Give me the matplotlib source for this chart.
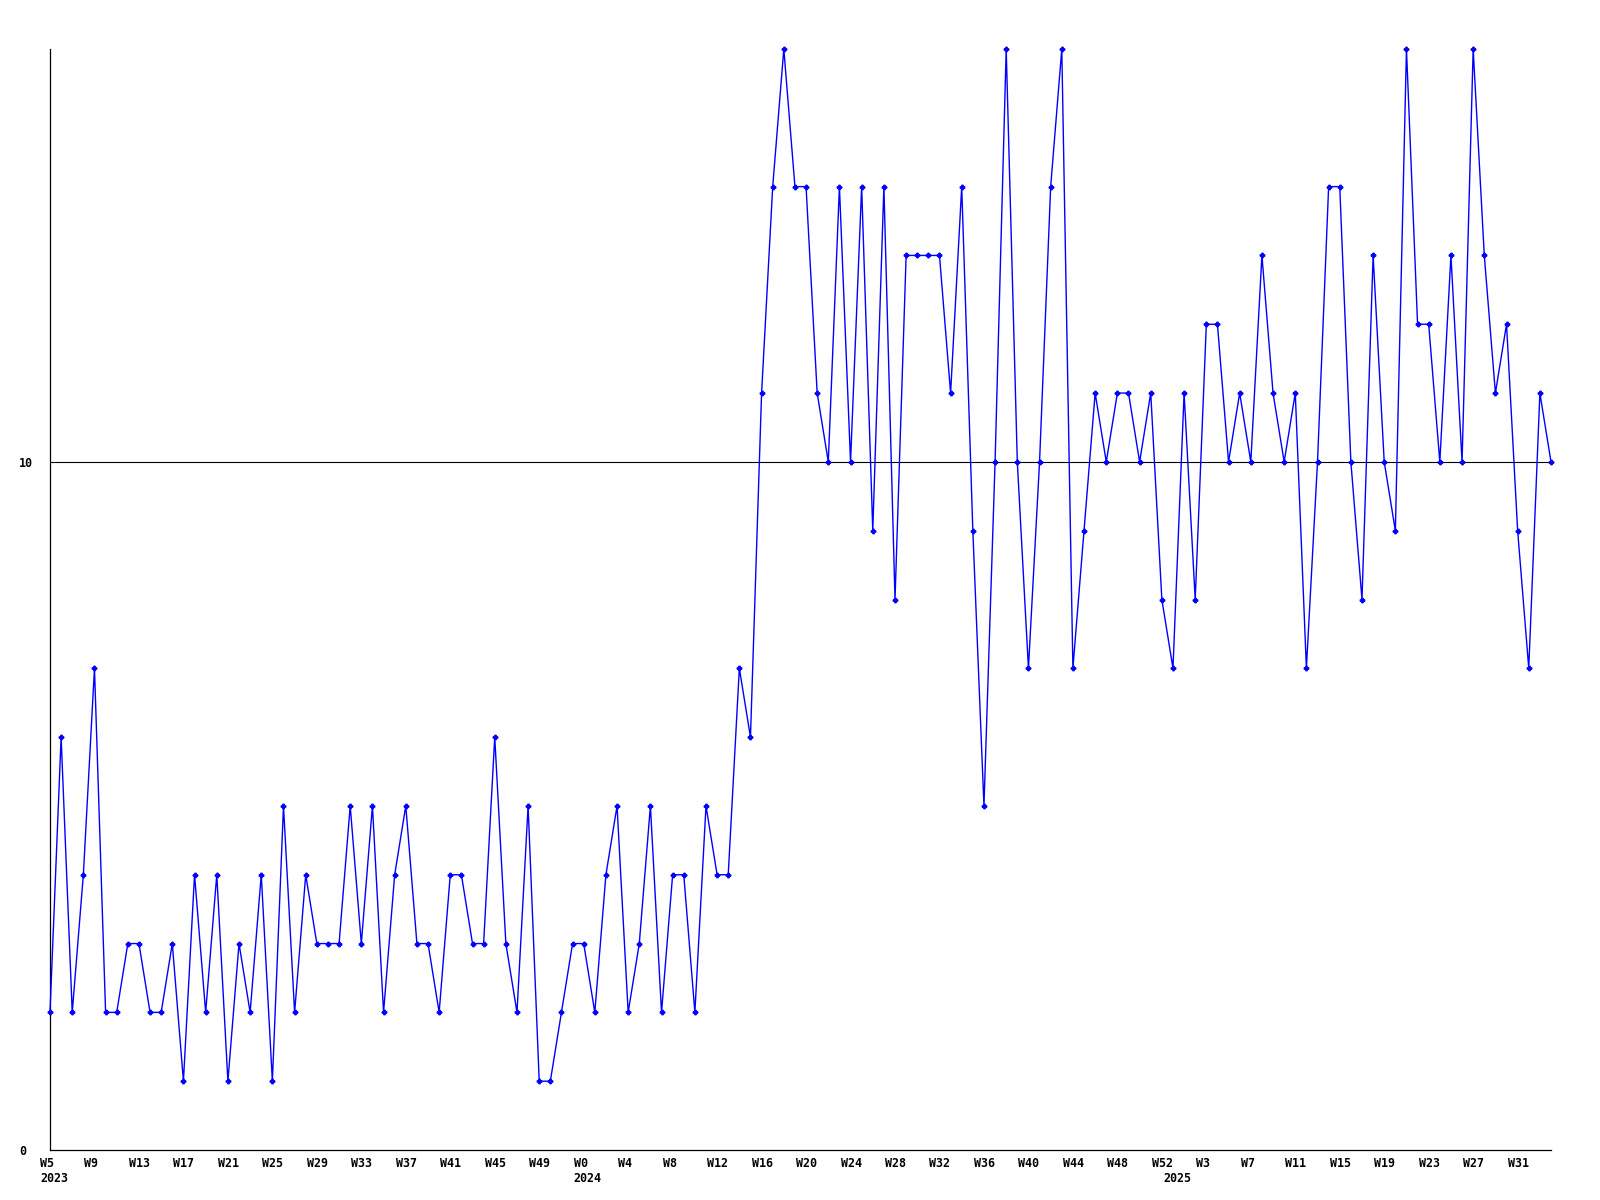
import matplotlib
matplotlib.use("Agg")
import matplotlib.pyplot as plt
from matplotlib.transforms import ScaledTranslation

# ---- data -------------------------------------------------------------
# (year, first week, last week) covered by the series, one point per week
year_spans = [(2023, 5, 52), (2024, 0, 52), (2025, 0, 34)]

values = [2, 6, 2, 4, 7, 2, 2, 3, 3, 2, 2, 3, 1, 4, 2, 4, 1, 3, 2, 4, 1, 5, 2, 4, 3, 3, 3, 5, 3, 5, 2, 4, 5,
          3, 3, 2, 4, 4, 3, 3, 6, 3, 2, 5, 1, 1, 2, 3, 3, 2, 4, 5, 2, 3, 5, 2, 4, 4, 2, 5, 4, 4, 7, 6,
          11, 14, 16, 14, 14, 11, 10, 14, 10, 14, 9, 14, 8, 13, 13, 13, 13, 11, 14, 9, 5, 10, 16, 10,
          7, 10, 14, 16, 7, 9, 11, 10, 11, 11, 10, 11, 8, 7, 11, 8, 12, 12, 10, 11, 10, 13, 11, 10,
          11, 7, 10, 14, 14, 10, 8, 13, 10, 9, 16, 12, 12, 10, 13, 10, 16, 13, 11, 12, 9, 7, 11, 10]

x_tick_labels = ["W5", "W9", "W13", "W17", "W21", "W25", "W29", "W33", "W37", "W41", "W45", "W49",
                 "W0", "W4", "W8", "W12", "W16", "W20", "W24", "W28", "W32", "W36", "W40", "W44",
                 "W48", "W52", "W3", "W7", "W11", "W15", "W19", "W23", "W27", "W31"]
year_labels = ["2023", "2024", "2025"]
y_ticks = [0, 10]
y_tick_labels = ["0", "10"]
reference_level = 10
y_max = 16

# ---- derived positions ------------------------------------------------
x = list(range(len(values)))
year_starts = []
idx = 0
for (yr, w0, w1) in year_spans:
    year_starts.append(idx)
    idx += w1 - w0 + 1
tick_step = 4
x_ticks = x[::tick_step]

# ---- figure -----------------------------------------------------------
W, H, DPI = 1600, 1200, 100
fig = plt.figure(figsize=(W / DPI, H / DPI), dpi=DPI, facecolor="white")
ax = fig.add_axes([50 / W, 1 - 1150 / H, (1551 - 50) / W, (1150 - 49) / H])
ax.set_facecolor("white")

font = dict(family="DejaVu Sans Mono", weight="bold", size=8.4)

ax.axhline(reference_level, color="black", lw=0.8, zorder=1)
ax.plot(x, values, color="#0000ff", lw=1.0, marker="P", ms=3.2,
        mec="#0000ff", mfc="#0000ff", zorder=3, clip_on=False)

ax.set_xlim(0, len(values) - 1)
ax.set_ylim(0, y_max)

for s in ["top", "right"]:
    ax.spines[s].set_visible(False)
for s in ["left", "bottom"]:
    ax.spines[s].set_color("black")
    ax.spines[s].set_linewidth(0.9)

# y ticks
ax.set_yticks(y_ticks)
ax.set_yticklabels(y_tick_labels, fontdict=font)
ax.tick_params(axis="y", length=0, pad=22.3)
for lab in ax.get_yticklabels():
    lab.set_ha("left")

# x ticks
ax.set_xticks(x_ticks)
ax.set_xticklabels(x_tick_labels, fontdict=font)
ax.tick_params(axis="x", length=0, pad=5.0)
shift = ScaledTranslation(-10 / DPI, 0, fig.dpi_scale_trans)
for lab in ax.get_xticklabels():
    lab.set_ha("left")
    lab.set_transform(lab.get_transform() + shift)

# year labels under the first week of each year
ytrans = ax.get_xaxis_transform() + ScaledTranslation(-10 / DPI, -22 / DPI, fig.dpi_scale_trans)
for pos, lab in zip(year_starts, year_labels):
    ax.text(pos, 0, lab, transform=ytrans, ha="left", va="top", **font)

fig.savefig("out.png", dpi=DPI, facecolor="white")
